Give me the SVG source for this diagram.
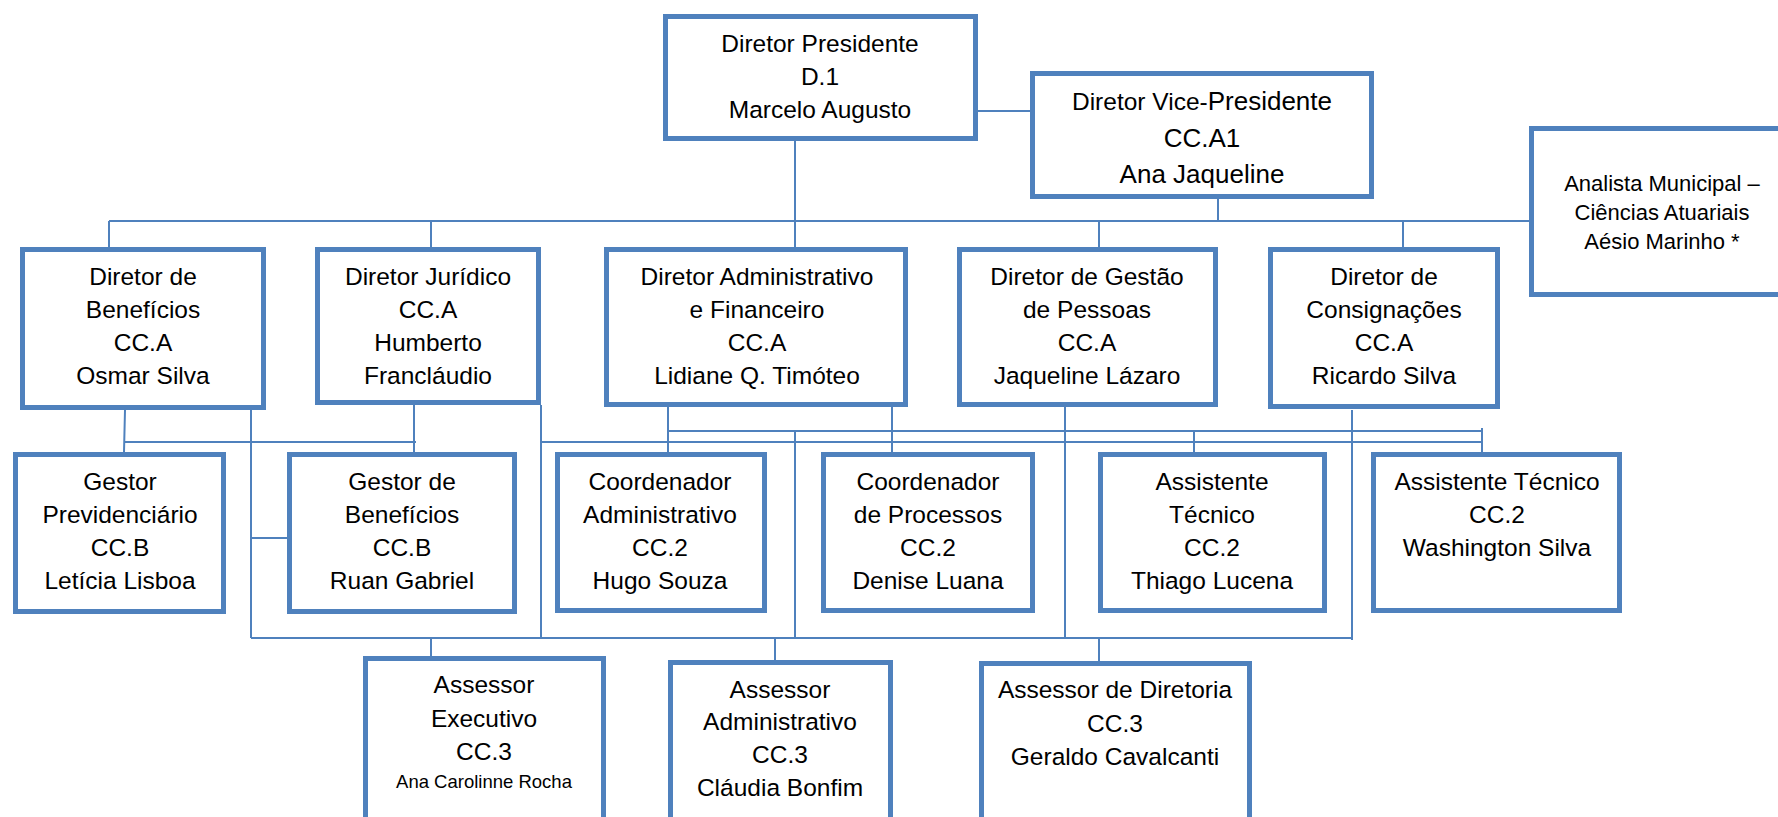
<svg xmlns="http://www.w3.org/2000/svg" width="1778" height="817" viewBox="0 0 1778 817">
<style>
.box{fill:#fff;stroke:#4F81BD;stroke-width:5}
.ln{fill:none;stroke:#4F81BD;stroke-width:2}
text{font-family:"Liberation Sans",Arial,sans-serif;font-size:24.5px;fill:#000;text-anchor:middle}
.sm{font-size:22px}
.xs{font-size:18.5px}
.lg{font-size:26px}
</style>
<rect width="1778" height="817" fill="#fff"/>
<g id="connectors">
<path class="ln" d="M978 111H1030 M795 141V247 M1218 199V221 M109 221H1529 M109 221V247 M431 221V247 M1099 221V247 M1403 221V247"/>
<path class="ln" d="M125 410L124 452 M124 442H416 M414 405V452 M251 410V638 M251 538H287 M541 405V638 M541 442H1482 M668 407V452 M668 431H1482 M795 431V638 M892 407V452 M1065 407V639 M1194 431V452 M1352 410V640 M1482 428V452 M251 638H1352 M431 638V656 M775 638V660 M1099 638V661"/>
</g>
<g id="presidente"><rect class="box" x="665.5" y="16.5" width="310" height="122"/>
<text x="820" y="52">Diretor Presidente</text><text x="820" y="85">D.1</text><text x="820" y="118">Marcelo Augusto</text></g>
<g id="vice"><rect class="box" x="1032.5" y="73.5" width="339" height="123"/>
<text x="1202" y="110">Diretor Vice-<tspan class="lg">Presidente</tspan></text><text class="lg" x="1202" y="147">CC.A1</text><text class="lg" x="1202" y="183">Ana Jaqueline</text></g>
<g id="analista"><rect class="box" x="1531.5" y="128.5" width="300" height="166"/>
<text class="sm" x="1662" y="191">Analista Municipal –</text><text class="sm" x="1662" y="220">Ciências Atuariais</text><text class="sm" x="1662" y="249">Aésio Marinho *</text></g>
<g id="dir-beneficios"><rect class="box" x="22.5" y="249.5" width="241" height="158"/>
<text x="143" y="285">Diretor de</text><text x="143" y="318">Benefícios</text><text x="143" y="351">CC.A</text><text x="143" y="384">Osmar Silva</text></g>
<g id="dir-juridico"><rect class="box" x="317.5" y="249.5" width="221" height="153"/>
<text x="428" y="285">Diretor Jurídico</text><text x="428" y="318">CC.A</text><text x="428" y="351">Humberto</text><text x="428" y="384">Francláudio</text></g>
<g id="dir-admin"><rect class="box" x="606.5" y="249.5" width="299" height="155"/>
<text x="757" y="285">Diretor Administrativo</text><text x="757" y="318">e Financeiro</text><text x="757" y="351">CC.A</text><text x="757" y="384">Lidiane Q. Timóteo</text></g>
<g id="dir-pessoas"><rect class="box" x="959.5" y="249.5" width="256" height="155"/>
<text x="1087" y="285">Diretor de Gestão</text><text x="1087" y="318">de Pessoas</text><text x="1087" y="351">CC.A</text><text x="1087" y="384">Jaqueline Lázaro</text></g>
<g id="dir-consig"><rect class="box" x="1270.5" y="249.5" width="227" height="157"/>
<text x="1384" y="285">Diretor de</text><text x="1384" y="318">Consignações</text><text x="1384" y="351">CC.A</text><text x="1384" y="384">Ricardo Silva</text></g>
<g id="gestor-prev"><rect class="box" x="15.5" y="454.5" width="208" height="157"/>
<text x="120" y="490">Gestor</text><text x="120" y="523">Previdenciário</text><text x="120" y="556">CC.B</text><text x="120" y="589">Letícia Lisboa</text></g>
<g id="gestor-benef"><rect class="box" x="289.5" y="454.5" width="225" height="157"/>
<text x="402" y="490">Gestor de</text><text x="402" y="523">Benefícios</text><text x="402" y="556">CC.B</text><text x="402" y="589">Ruan Gabriel</text></g>
<g id="coord-admin"><rect class="box" x="557.5" y="454.5" width="207" height="156"/>
<text x="660" y="490">Coordenador</text><text x="660" y="523">Administrativo</text><text x="660" y="556">CC.2</text><text x="660" y="589">Hugo Souza</text></g>
<g id="coord-proc"><rect class="box" x="823.5" y="454.5" width="209" height="156"/>
<text x="928" y="490">Coordenador</text><text x="928" y="523">de Processos</text><text x="928" y="556">CC.2</text><text x="928" y="589">Denise Luana</text></g>
<g id="assist-tec"><rect class="box" x="1100.5" y="454.5" width="224" height="156"/>
<text x="1212" y="490">Assistente</text><text x="1212" y="523">Técnico</text><text x="1212" y="556">CC.2</text><text x="1212" y="589">Thiago Lucena</text></g>
<g id="assist-tec2"><rect class="box" x="1373.5" y="454.5" width="246" height="156"/>
<text x="1497" y="490">Assistente Técnico</text><text x="1497" y="523">CC.2</text><text x="1497" y="556">Washington Silva</text></g>
<g id="assessor-exec"><rect class="box" x="365.5" y="658.5" width="238" height="200"/>
<text x="484" y="693">Assessor</text><text x="484" y="727">Executivo</text><text x="484" y="760">CC.3</text><text class="xs" x="484" y="788">Ana Carolinne Rocha</text></g>
<g id="assessor-admin"><rect class="box" x="670.5" y="662.5" width="220" height="200"/>
<text x="780" y="698">Assessor</text><text x="780" y="730">Administrativo</text><text x="780" y="763">CC.3</text><text x="780" y="796">Cláudia Bonfim</text></g>
<g id="assessor-dir"><rect class="box" x="981.5" y="663.5" width="268" height="200"/>
<text x="1115" y="698">Assessor de Diretoria</text><text x="1115" y="732">CC.3</text><text x="1115" y="765">Geraldo Cavalcanti</text></g>
</svg>
